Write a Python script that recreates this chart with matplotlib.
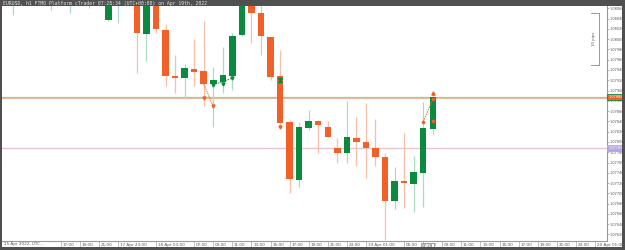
import matplotlib
matplotlib.use("Agg")
import matplotlib.pyplot as plt
import matplotlib.transforms as mtransforms
import numpy as np
from matplotlib.patches import Rectangle

# hourly candles, bar index 0 = 18 Apr 00:00
bar_idx = [-12, -8, -6, -4, -2, -1, 1, 2, 3, 4, 5, 6, 7, 8, 9, 10, 11, 12, 13, 14, 15, 16,
           17, 18, 19, 20, 21, 22, 23, 24, 25, 26, 27, 28, 29, 30, 31, 32]
opens = [1.08075, 1.08085, 1.08070, 1.08080, 1.08037, 1.08070, 1.08075, 1.08010, 1.08078, 1.08018,
         1.07928, 1.07925, 1.07941, 1.07938, 1.07913, 1.07917, 1.07928, 1.08008, 1.08080, 1.08050,
         1.08005, 1.07928, 1.07839, 1.07726, 1.07828, 1.07841, 1.07830, 1.07788, 1.07778, 1.07808,
         1.07800, 1.07788, 1.07771, 1.07686, 1.07724, 1.07718, 1.07740, 1.07826]
highs = [1.08095, 1.08090, 1.08090, 1.08090, 1.08080, 1.08090, 1.08090, 1.08090, 1.08090, 1.08030,
         1.07969, 1.07952, 1.08000, 1.08036, 1.07946, 1.07985, 1.08012, 1.08090, 1.08085, 1.08070,
         1.08005, 1.07979, 1.07842, 1.07839, 1.07862, 1.07843, 1.07841, 1.07808, 1.07880, 1.07849,
         1.07876, 1.07844, 1.07778, 1.07752, 1.07817, 1.07773, 1.07878, 1.07895]
lows = [1.08047, 1.08057, 1.08051, 1.08061, 1.08036, 1.08032, 1.07935, 1.07958, 1.08012, 1.07909,
        1.07895, 1.07885, 1.07909, 1.07869, 1.07829, 1.07896, 1.07901, 1.08006, 1.07992, 1.07969,
        1.07920, 1.07829, 1.07700, 1.07713, 1.07823, 1.07779, 1.07809, 1.07760, 1.07760, 1.07753,
        1.07729, 1.07753, 1.07609, 1.07670, 1.07671, 1.07663, 1.07673, 1.07815]
closes = [1.08090, 1.08070, 1.08085, 1.08070, 1.08075, 1.08085, 1.08011, 1.08080, 1.08019, 1.07928,
          1.07925, 1.07943, 1.07937, 1.07913, 1.07921, 1.07930, 1.08007, 1.08080, 1.08051, 1.08006,
          1.07927, 1.07837, 1.07728, 1.07830, 1.07841, 1.07833, 1.07810, 1.07778, 1.07809, 1.07799,
          1.07789, 1.07770, 1.07685, 1.07724, 1.07720, 1.07742, 1.07827, 1.07888]

bid_line = 1.07888
ask_line = 1.07886
alert_line = 1.07789

tick_pos = [-7, -5, -3, -1, 3, 7, 9, 11, 13, 15, 17, 19, 21, 23, 25, 29, 31, 33, 35, 37, 39,
            41, 43, 45, 47, 49]
tick_text = ["17:00", "19:00", "21:00", "17 Apr 23:00", "18 Apr 03:00", "07:00", "09:00", "11:00",
             "13:00", "15:00", "17:00", "19:00", "21:00", "23:00", "19 Apr 01:00", "05:00", "07:00",
             "09:00", "11:00", "13:00", "15:00", "17:00", "19:00", "21:00", "23:00", "20 Apr 01:00"]
price_ticks = [1.0806 - 0.0002 * k for k in range(23)]

# trade markers
sell_x = [8, 9]
sell_y = [1.07885, 1.07869]
buy_x = [9, 10, 11]
buy_y = [1.07911, 1.07913, 1.07924]
live_x = [31, 32, 32]
live_y = [1.07839, 1.07883, 1.07841]

GREEN = "#0a8a3f"
ORANGE = "#f2602a"
GREEN_W = "#a9dcc0"
ORANGE_W = "#f8bfa8"
NARROW = ["Liberation Sans Narrow", "DejaVu Sans"]

fig = plt.figure(figsize=(6.25, 2.5), dpi=100)
fig.patch.set_facecolor("white")
ax = fig.add_axes([2 / 625, 1 - 241 / 250, 605 / 625, 235 / 250])

x = np.array(bar_idx, dtype=float)
o = np.array(opens)
h = np.array(highs)
l = np.array(lows)
c = np.array(closes)
up = c >= o

ax.vlines(x[up], l[up], h[up], color=GREEN_W, lw=0.9, zorder=2)
ax.vlines(x[~up], l[~up], h[~up], color=ORANGE_W, lw=0.9, zorder=2)
body_lo = np.minimum(o, c)
body_h = np.maximum(np.abs(c - o), 0.00002)
ax.bar(x[up], body_h[up], bottom=body_lo[up], width=0.68, color=GREEN, zorder=3)
ax.bar(x[~up], body_h[~up], bottom=body_lo[~up], width=0.68, color=ORANGE, zorder=3)

ax.axhline(ask_line, color="#f5b896", lw=0.8, zorder=1)
ax.axhline(bid_line, color="#8fd3a8", lw=0.9, zorder=1.5)
ax.axhline(alert_line, color="#e8c6d0", lw=1.0, zorder=1)

# trade arrows
ax.plot([8, 9], [1.07913, 1.07869], color=ORANGE, lw=0.6, ls=(0, (2, 1)), zorder=4)
ax.plot(sell_x, sell_y, "v", color=ORANGE, ms=2.2, zorder=5)
ax.plot([9, 11], [buy_y[0], buy_y[2]], color=GREEN, lw=0.6, ls=(0, (2, 1)), zorder=4)
ax.plot(buy_x, buy_y, "v", color=GREEN, ms=2.2, zorder=5)
ax.plot([16], [1.07921], marker="$\u29d7$", color=GREEN, ms=3, zorder=5)
ax.plot([16], [1.07830], "v", color=ORANGE, ms=2.2, zorder=5)
ax.plot([31, 32], [live_y[0], live_y[1]], color=ORANGE, lw=0.6, ls=(0, (2, 1)), zorder=4)
ax.plot(live_x, live_y, "o", color=ORANGE, ms=1.6, zorder=5)
ax.plot([32], [1.07895], "^", color=ORANGE, ms=2.4, zorder=5)

ax.set_xlim(-13.14, 50.26)
ax.set_ylim(1.076073, 1.080645)

ax.yaxis.tick_right()
ax.set_yticks(price_ticks)
ax.set_yticklabels(["%.5f" % p for p in price_ticks], fontsize=2.5, color="#555555",
                   family=NARROW)
ax.tick_params(axis="y", length=1.2, width=0.5, color="#999999", pad=1.0)
ax.set_xticks(tick_pos)
ax.set_xticklabels(tick_text, fontsize=3.0, color="#555555", ha="left", family=NARROW)
ax.tick_params(axis="x", length=6, width=0.5, color="#aaaaaa", pad=-4.5, direction="out")
shift = mtransforms.ScaledTranslation(1.2 / 72, 0, fig.dpi_scale_trans)
for lab in ax.get_xticklabels():
    lab.set_transform(lab.get_transform() + shift)

for side in ["top", "left"]:
    ax.spines[side].set_visible(False)
ax.spines["right"].set_color("#9a9a9a")
ax.spines["bottom"].set_color("#9a9a9a")
ax.spines["right"].set_linewidth(0.8)
ax.spines["bottom"].set_linewidth(0.8)

# price boxes on the right scale
ax.annotate("%.5f" % bid_line, xy=(1.0, bid_line), xycoords=("axes fraction", "data"),
            xytext=(1.0, 0), textcoords="offset points", fontsize=2.5, color="white",
            va="center", ha="left", family=NARROW,
            bbox=dict(boxstyle="square,pad=0.3", fc=ORANGE, ec=GREEN, lw=0.6))
ax.annotate("%.5f" % alert_line, xy=(1.0, alert_line), xycoords=("axes fraction", "data"),
            xytext=(1.0, 0), textcoords="offset points", fontsize=2.5, color="white",
            va="center", ha="left", family=NARROW,
            bbox=dict(boxstyle="square,pad=0.3", fc="#b7a3e6", ec="#b7a3e6", lw=0.6))

# current time box
ax.annotate("07:28", xy=(31.47, 0), xycoords=("data", "axes fraction"), xytext=(0, -3.5),
            textcoords="offset points", fontsize=2.8, color="#444444", ha="center", va="center",
            family=NARROW, zorder=6,
            bbox=dict(boxstyle="square,pad=0.2", fc="white", ec="#888888", lw=0.5))

# pips ruler at top right
ax.plot([48.6, 49.4, 49.4, 48.6], [1.08050, 1.08050, 1.07950, 1.07950], color="#888888",
        lw=0.6, zorder=4)
ax.text(48.9, 1.08000, "10 pips", rotation=90, fontsize=2.8, color="#555555",
        ha="center", va="center", family=NARROW)

# frame around the chart window
fig.add_artist(Rectangle((0, 1 - 6 / 250), 1, 6 / 250, transform=fig.transFigure,
                         fc="#505050", ec="none"))
fig.text(3 / 625, 1 - 3 / 250, "EURUSD, h1 FTMO Platform cTrader 07:28:34 (UTC+00:00) on Apr 19th, 2022",
         fontsize=3.4, color="#e6e6e6", va="center", ha="left", family="DejaVu Sans Mono")
fig.add_artist(Rectangle((0, 0), 2 / 625, 1, transform=fig.transFigure, fc="#505050", ec="none"))
fig.add_artist(Rectangle((622 / 625, 0), 3 / 625, 1, transform=fig.transFigure,
                         fc="#505050", ec="none"))
fig.add_artist(Rectangle((0, 0), 1, 3 / 250, transform=fig.transFigure, fc="#505050", ec="none"))
fig.text(4 / 625, 5.5 / 250, "15 Apr 2022, UTC...", fontsize=3.0, color="#555555",
         va="center", ha="left", family=NARROW)

fig.savefig("out.png", dpi=100)
